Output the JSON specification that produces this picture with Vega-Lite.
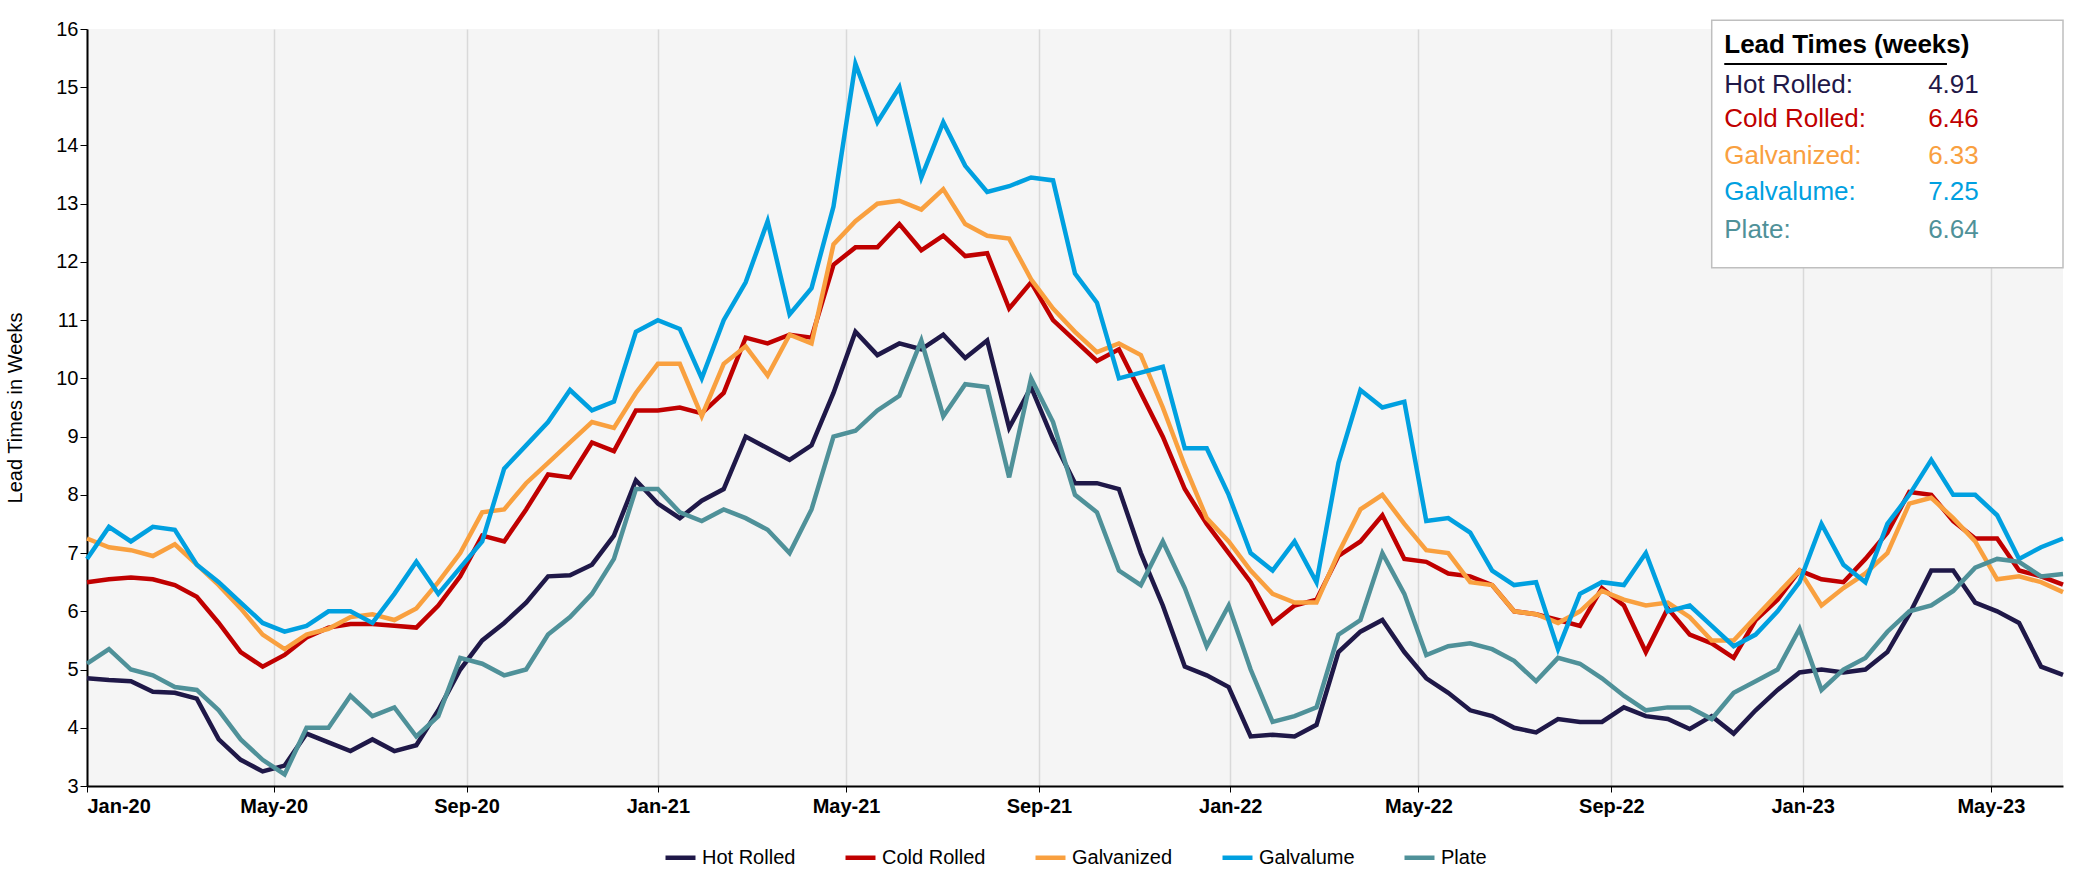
{
  "$schema": "https://vega.github.io/schema/vega-lite/v6.json",
  "width": 2097,
  "height": 873,
  "autosize": {"type": "fit", "contains": "padding"},
  "padding": {"left": 5, "right": 25, "top": 18, "bottom": 5},
  "background": "#ffffff",
  "config": {
    "view": {"fill": "#f5f5f5", "stroke": null},
    "font": "Liberation Sans",
    "legend": {"layout": {"bottom": {"anchor": "middle"}}}
  },
  "datasets": {
    "lead": [
      {"date":"2020-01-03","Hot Rolled":4.85,"Cold Rolled":6.5,"Galvanized":7.25,"Galvalume":6.9,"Plate":5.1},
      {"date":"2020-01-17","Hot Rolled":4.82,"Cold Rolled":6.55,"Galvanized":7.1,"Galvalume":7.45,"Plate":5.35},
      {"date":"2020-01-31","Hot Rolled":4.8,"Cold Rolled":6.58,"Galvanized":7.05,"Galvalume":7.2,"Plate":5.0},
      {"date":"2020-02-14","Hot Rolled":4.62,"Cold Rolled":6.55,"Galvanized":6.95,"Galvalume":7.45,"Plate":4.9},
      {"date":"2020-02-28","Hot Rolled":4.6,"Cold Rolled":6.45,"Galvanized":7.15,"Galvalume":7.4,"Plate":4.7},
      {"date":"2020-03-13","Hot Rolled":4.5,"Cold Rolled":6.25,"Galvanized":6.8,"Galvalume":6.8,"Plate":4.65},
      {"date":"2020-03-27","Hot Rolled":3.8,"Cold Rolled":5.8,"Galvanized":6.45,"Galvalume":6.5,"Plate":4.3},
      {"date":"2020-04-10","Hot Rolled":3.45,"Cold Rolled":5.3,"Galvanized":6.05,"Galvalume":6.15,"Plate":3.8},
      {"date":"2020-04-24","Hot Rolled":3.25,"Cold Rolled":5.05,"Galvanized":5.6,"Galvalume":5.8,"Plate":3.45},
      {"date":"2020-05-08","Hot Rolled":3.35,"Cold Rolled":5.25,"Galvanized":5.35,"Galvalume":5.65,"Plate":3.2},
      {"date":"2020-05-22","Hot Rolled":3.9,"Cold Rolled":5.55,"Galvanized":5.6,"Galvalume":5.75,"Plate":4.0},
      {"date":"2020-06-05","Hot Rolled":3.75,"Cold Rolled":5.72,"Galvanized":5.7,"Galvalume":6.0,"Plate":4.0},
      {"date":"2020-06-19","Hot Rolled":3.6,"Cold Rolled":5.78,"Galvanized":5.9,"Galvalume":6.0,"Plate":4.55},
      {"date":"2020-07-03","Hot Rolled":3.8,"Cold Rolled":5.78,"Galvanized":5.95,"Galvalume":5.8,"Plate":4.2},
      {"date":"2020-07-17","Hot Rolled":3.6,"Cold Rolled":5.75,"Galvanized":5.85,"Galvalume":6.3,"Plate":4.35},
      {"date":"2020-07-31","Hot Rolled":3.7,"Cold Rolled":5.72,"Galvanized":6.05,"Galvalume":6.85,"Plate":3.85},
      {"date":"2020-08-14","Hot Rolled":4.3,"Cold Rolled":6.1,"Galvanized":6.5,"Galvalume":6.3,"Plate":4.2},
      {"date":"2020-08-28","Hot Rolled":5.0,"Cold Rolled":6.6,"Galvanized":7.0,"Galvalume":6.75,"Plate":5.2},
      {"date":"2020-09-11","Hot Rolled":5.5,"Cold Rolled":7.3,"Galvanized":7.7,"Galvalume":7.2,"Plate":5.1},
      {"date":"2020-09-25","Hot Rolled":5.8,"Cold Rolled":7.2,"Galvanized":7.75,"Galvalume":8.45,"Plate":4.9},
      {"date":"2020-10-09","Hot Rolled":6.15,"Cold Rolled":7.75,"Galvanized":8.2,"Galvalume":8.85,"Plate":5.0},
      {"date":"2020-10-23","Hot Rolled":6.6,"Cold Rolled":8.35,"Galvanized":8.55,"Galvalume":9.25,"Plate":5.6},
      {"date":"2020-11-06","Hot Rolled":6.62,"Cold Rolled":8.3,"Galvanized":8.9,"Galvalume":9.8,"Plate":5.9},
      {"date":"2020-11-20","Hot Rolled":6.8,"Cold Rolled":8.9,"Galvanized":9.25,"Galvalume":9.45,"Plate":6.3},
      {"date":"2020-12-04","Hot Rolled":7.3,"Cold Rolled":8.75,"Galvanized":9.15,"Galvalume":9.6,"Plate":6.9},
      {"date":"2020-12-18","Hot Rolled":8.25,"Cold Rolled":9.45,"Galvanized":9.75,"Galvalume":10.8,"Plate":8.1},
      {"date":"2021-01-01","Hot Rolled":7.85,"Cold Rolled":9.45,"Galvanized":10.25,"Galvalume":11.0,"Plate":8.1},
      {"date":"2021-01-15","Hot Rolled":7.6,"Cold Rolled":9.5,"Galvanized":10.25,"Galvalume":10.85,"Plate":7.7},
      {"date":"2021-01-29","Hot Rolled":7.9,"Cold Rolled":9.4,"Galvanized":9.35,"Galvalume":10.0,"Plate":7.55},
      {"date":"2021-02-12","Hot Rolled":8.1,"Cold Rolled":9.75,"Galvanized":10.25,"Galvalume":11.0,"Plate":7.75},
      {"date":"2021-02-26","Hot Rolled":9.0,"Cold Rolled":10.7,"Galvanized":10.55,"Galvalume":11.65,"Plate":7.6},
      {"date":"2021-03-12","Hot Rolled":8.8,"Cold Rolled":10.6,"Galvanized":10.05,"Galvalume":12.7,"Plate":7.4},
      {"date":"2021-03-26","Hot Rolled":8.6,"Cold Rolled":10.75,"Galvanized":10.75,"Galvalume":11.1,"Plate":7.0},
      {"date":"2021-04-09","Hot Rolled":8.85,"Cold Rolled":10.7,"Galvanized":10.6,"Galvalume":11.55,"Plate":7.75},
      {"date":"2021-04-23","Hot Rolled":9.75,"Cold Rolled":11.95,"Galvanized":12.3,"Galvalume":12.95,"Plate":9.0},
      {"date":"2021-05-07","Hot Rolled":10.8,"Cold Rolled":12.25,"Galvanized":12.7,"Galvalume":15.4,"Plate":9.1},
      {"date":"2021-05-21","Hot Rolled":10.4,"Cold Rolled":12.25,"Galvanized":13.0,"Galvalume":14.4,"Plate":9.45},
      {"date":"2021-06-04","Hot Rolled":10.6,"Cold Rolled":12.65,"Galvanized":13.05,"Galvalume":15.0,"Plate":9.7},
      {"date":"2021-06-18","Hot Rolled":10.5,"Cold Rolled":12.2,"Galvanized":12.9,"Galvalume":13.45,"Plate":10.65},
      {"date":"2021-07-02","Hot Rolled":10.75,"Cold Rolled":12.45,"Galvanized":13.25,"Galvalume":14.4,"Plate":9.35},
      {"date":"2021-07-16","Hot Rolled":10.35,"Cold Rolled":12.1,"Galvanized":12.65,"Galvalume":13.65,"Plate":9.9},
      {"date":"2021-07-30","Hot Rolled":10.65,"Cold Rolled":12.15,"Galvanized":12.45,"Galvalume":13.2,"Plate":9.85},
      {"date":"2021-08-13","Hot Rolled":9.15,"Cold Rolled":11.2,"Galvanized":12.4,"Galvalume":13.3,"Plate":8.3},
      {"date":"2021-08-27","Hot Rolled":9.85,"Cold Rolled":11.65,"Galvanized":11.7,"Galvalume":13.45,"Plate":10.0},
      {"date":"2021-09-10","Hot Rolled":8.95,"Cold Rolled":11.0,"Galvanized":11.2,"Galvalume":13.4,"Plate":9.25},
      {"date":"2021-09-24","Hot Rolled":8.2,"Cold Rolled":10.65,"Galvanized":10.8,"Galvalume":11.8,"Plate":8.0},
      {"date":"2021-10-08","Hot Rolled":8.2,"Cold Rolled":10.3,"Galvanized":10.45,"Galvalume":11.3,"Plate":7.7},
      {"date":"2021-10-22","Hot Rolled":8.1,"Cold Rolled":10.5,"Galvanized":10.6,"Galvalume":10.0,"Plate":6.7},
      {"date":"2021-11-05","Hot Rolled":7.0,"Cold Rolled":9.75,"Galvanized":10.4,"Galvalume":10.1,"Plate":6.45},
      {"date":"2021-11-19","Hot Rolled":6.1,"Cold Rolled":9.0,"Galvanized":9.5,"Galvalume":10.2,"Plate":7.2},
      {"date":"2021-12-03","Hot Rolled":5.05,"Cold Rolled":8.1,"Galvanized":8.5,"Galvalume":8.8,"Plate":6.4},
      {"date":"2021-12-17","Hot Rolled":4.9,"Cold Rolled":7.5,"Galvanized":7.6,"Galvalume":8.8,"Plate":5.4},
      {"date":"2021-12-31","Hot Rolled":4.7,"Cold Rolled":7.0,"Galvanized":7.2,"Galvalume":8.0,"Plate":6.1},
      {"date":"2022-01-14","Hot Rolled":3.85,"Cold Rolled":6.5,"Galvanized":6.7,"Galvalume":7.0,"Plate":5.0},
      {"date":"2022-01-28","Hot Rolled":3.88,"Cold Rolled":5.8,"Galvanized":6.3,"Galvalume":6.7,"Plate":4.1},
      {"date":"2022-02-11","Hot Rolled":3.85,"Cold Rolled":6.1,"Galvanized":6.15,"Galvalume":7.2,"Plate":4.2},
      {"date":"2022-02-25","Hot Rolled":4.05,"Cold Rolled":6.2,"Galvanized":6.15,"Galvalume":6.5,"Plate":4.35},
      {"date":"2022-03-11","Hot Rolled":5.3,"Cold Rolled":6.95,"Galvanized":7.0,"Galvalume":8.55,"Plate":5.6},
      {"date":"2022-03-25","Hot Rolled":5.65,"Cold Rolled":7.2,"Galvanized":7.75,"Galvalume":9.8,"Plate":5.85},
      {"date":"2022-04-08","Hot Rolled":5.85,"Cold Rolled":7.65,"Galvanized":8.0,"Galvalume":9.5,"Plate":7.0},
      {"date":"2022-04-22","Hot Rolled":5.3,"Cold Rolled":6.9,"Galvanized":7.5,"Galvalume":9.6,"Plate":6.3},
      {"date":"2022-05-06","Hot Rolled":4.85,"Cold Rolled":6.85,"Galvanized":7.05,"Galvalume":7.55,"Plate":5.25},
      {"date":"2022-05-20","Hot Rolled":4.6,"Cold Rolled":6.65,"Galvanized":7.0,"Galvalume":7.6,"Plate":5.4},
      {"date":"2022-06-03","Hot Rolled":4.3,"Cold Rolled":6.6,"Galvanized":6.5,"Galvalume":7.35,"Plate":5.45},
      {"date":"2022-06-17","Hot Rolled":4.2,"Cold Rolled":6.45,"Galvanized":6.45,"Galvalume":6.7,"Plate":5.35},
      {"date":"2022-07-01","Hot Rolled":4.0,"Cold Rolled":6.0,"Galvanized":6.0,"Galvalume":6.45,"Plate":5.15},
      {"date":"2022-07-15","Hot Rolled":3.92,"Cold Rolled":5.95,"Galvanized":5.95,"Galvalume":6.5,"Plate":4.8},
      {"date":"2022-07-29","Hot Rolled":4.15,"Cold Rolled":5.85,"Galvanized":5.8,"Galvalume":5.35,"Plate":5.2},
      {"date":"2022-08-12","Hot Rolled":4.1,"Cold Rolled":5.75,"Galvanized":6.0,"Galvalume":6.3,"Plate":5.1},
      {"date":"2022-08-26","Hot Rolled":4.1,"Cold Rolled":6.4,"Galvanized":6.35,"Galvalume":6.5,"Plate":4.85},
      {"date":"2022-09-09","Hot Rolled":4.35,"Cold Rolled":6.1,"Galvanized":6.2,"Galvalume":6.45,"Plate":4.55},
      {"date":"2022-09-23","Hot Rolled":4.2,"Cold Rolled":5.3,"Galvanized":6.1,"Galvalume":7.0,"Plate":4.3},
      {"date":"2022-10-07","Hot Rolled":4.15,"Cold Rolled":6.05,"Galvanized":6.15,"Galvalume":6.0,"Plate":4.35},
      {"date":"2022-10-21","Hot Rolled":3.98,"Cold Rolled":5.6,"Galvanized":5.9,"Galvalume":6.1,"Plate":4.35},
      {"date":"2022-11-04","Hot Rolled":4.2,"Cold Rolled":5.45,"Galvanized":5.5,"Galvalume":5.75,"Plate":4.15},
      {"date":"2022-11-18","Hot Rolled":3.9,"Cold Rolled":5.2,"Galvanized":5.5,"Galvalume":5.4,"Plate":4.6},
      {"date":"2022-12-02","Hot Rolled":4.3,"Cold Rolled":5.85,"Galvanized":5.9,"Galvalume":5.6,"Plate":4.8},
      {"date":"2022-12-16","Hot Rolled":4.65,"Cold Rolled":6.2,"Galvanized":6.3,"Galvalume":6.0,"Plate":5.0},
      {"date":"2022-12-30","Hot Rolled":4.95,"Cold Rolled":6.7,"Galvanized":6.7,"Galvalume":6.5,"Plate":5.7},
      {"date":"2023-01-13","Hot Rolled":5.0,"Cold Rolled":6.55,"Galvanized":6.1,"Galvalume":7.5,"Plate":4.65},
      {"date":"2023-01-27","Hot Rolled":4.95,"Cold Rolled":6.5,"Galvanized":6.4,"Galvalume":6.8,"Plate":5.0},
      {"date":"2023-02-10","Hot Rolled":5.0,"Cold Rolled":6.9,"Galvanized":6.65,"Galvalume":6.5,"Plate":5.2},
      {"date":"2023-02-24","Hot Rolled":5.3,"Cold Rolled":7.35,"Galvanized":7.0,"Galvalume":7.5,"Plate":5.65},
      {"date":"2023-03-10","Hot Rolled":5.95,"Cold Rolled":8.05,"Galvanized":7.85,"Galvalume":8.0,"Plate":6.0},
      {"date":"2023-03-24","Hot Rolled":6.7,"Cold Rolled":8.0,"Galvanized":7.95,"Galvalume":8.6,"Plate":6.1},
      {"date":"2023-04-07","Hot Rolled":6.7,"Cold Rolled":7.55,"Galvanized":7.6,"Galvalume":8.0,"Plate":6.35},
      {"date":"2023-04-21","Hot Rolled":6.15,"Cold Rolled":7.25,"Galvanized":7.2,"Galvalume":8.0,"Plate":6.75},
      {"date":"2023-05-05","Hot Rolled":6.0,"Cold Rolled":7.25,"Galvanized":6.55,"Galvalume":7.65,"Plate":6.9},
      {"date":"2023-05-19","Hot Rolled":5.8,"Cold Rolled":6.7,"Galvanized":6.6,"Galvalume":6.9,"Plate":6.85},
      {"date":"2023-06-02","Hot Rolled":5.05,"Cold Rolled":6.6,"Galvanized":6.5,"Galvalume":7.1,"Plate":6.6},
      {"date":"2023-06-16","Hot Rolled":4.91,"Cold Rolled":6.46,"Galvanized":6.33,"Galvalume":7.25,"Plate":6.64}
    ]
  },
  "encoding": {
    "x": {
      "field": "date", "type": "temporal",
      "scale": {"domain": ["2020-01-03", "2023-06-16"]},
      "axis": {
        "title": null, "format": "%b-%y", "values": [
          "2020-01-03","2020-05-01","2020-09-01","2021-01-01","2021-05-01","2021-09-01",
          "2022-01-01","2022-05-01","2022-09-01","2023-01-01","2023-05-01"],
        "labelFontSize": 20, "labelFontWeight": "bold", "labelColor": "#000000",
        "grid": true, "gridColor": "#d9d9d9", "gridWidth": 1.5,
        "domainColor": "#000000", "domainWidth": 2, "tickColor": "#000000", "tickSize": 6, "labelPadding": 4
      }
    },
    "y": {
      "type": "quantitative",
      "scale": {"domain": [3, 16], "nice": false},
      "axis": {
        "title": "Lead Times in Weeks", "titleFontSize": 20, "titleFontWeight": "normal", "titleColor": "#000000", "titlePadding": 30,
        "values": [3,4,5,6,7,8,9,10,11,12,13,14,15,16], "labelOverlap": false,
        "labelFontSize": 20, "labelColor": "#000000", "grid": false,
        "domainColor": "#000000", "domainWidth": 2, "tickColor": "#000000", "tickSize": 7
      }
    }
  },
  "layer": [
    {
      "data": {"name": "lead"},
      "transform": [{"fold": ["Hot Rolled", "Cold Rolled", "Galvanized", "Galvalume", "Plate"], "as": ["series", "weeks"]}],
      "mark": {"type": "line", "strokeWidth": 4.5, "interpolate": "linear"},
      "encoding": {
        "y": {"field": "weeks"},
        "color": {
          "field": "series", "type": "nominal",
          "scale": {
            "domain": ["Hot Rolled", "Cold Rolled", "Galvanized", "Galvalume", "Plate"],
            "range": ["#1f1848", "#c00000", "#f9a03f", "#00a0e0", "#4f9199"]
          },
          "legend": {
            "orient": "bottom", "direction": "horizontal", "title": null,
            "symbolType": "stroke", "symbolStrokeWidth": 4.5, "symbolSize": 900,
            "labelFontSize": 20, "labelColor": "#000000", "columnPadding": 40, "offset": 24
          }
        }
      }
    },
    {
      "data": {"values": [{"a": "2022-11-04", "b": "2023-06-16", "t": 16.15, "u": 11.9}]},
      "mark": {"type": "rect", "fill": "#ffffff", "stroke": "#bfbfbf", "strokeWidth": 1.5, "clip": false},
      "encoding": {
        "x": {"field": "a", "type": "temporal"},
        "x2": {"field": "b"},
        "y": {"field": "t", "type": "quantitative"},
        "y2": {"field": "u"}
      }
    },
    {
      "data": {"values": [{"d": "2022-11-12", "v": 15.72, "txt": "Lead Times (weeks)"}]},
      "mark": {"type": "text", "align": "left", "baseline": "middle", "fontSize": 26, "fontWeight": "bold", "color": "#000000"},
      "encoding": {
        "x": {"field": "d", "type": "temporal"},
        "y": {"field": "v", "type": "quantitative"},
        "text": {"field": "txt"}
      }
    },
    {
      "data": {"values": [{"d1": "2022-11-12", "d2": "2023-04-03", "v": 15.4}]},
      "mark": {"type": "rule", "color": "#000000", "strokeWidth": 2},
      "encoding": {
        "x": {"field": "d1", "type": "temporal"},
        "x2": {"field": "d2"},
        "y": {"field": "v", "type": "quantitative"}
      }
    },
    {
      "data": {"values": [
        {"d": "2022-11-12", "v": 15.04, "txt": "Hot Rolled:", "series": "Hot Rolled"},
        {"d": "2022-11-12", "v": 14.45, "txt": "Cold Rolled:", "series": "Cold Rolled"},
        {"d": "2022-11-12", "v": 13.82, "txt": "Galvanized:", "series": "Galvanized"},
        {"d": "2022-11-12", "v": 13.2, "txt": "Galvalume:", "series": "Galvalume"},
        {"d": "2022-11-12", "v": 12.55, "txt": "Plate:", "series": "Plate"},
        {"d": "2023-03-22", "v": 15.04, "txt": "4.91", "series": "Hot Rolled"},
        {"d": "2023-03-22", "v": 14.45, "txt": "6.46", "series": "Cold Rolled"},
        {"d": "2023-03-22", "v": 13.82, "txt": "6.33", "series": "Galvanized"},
        {"d": "2023-03-22", "v": 13.2, "txt": "7.25", "series": "Galvalume"},
        {"d": "2023-03-22", "v": 12.55, "txt": "6.64", "series": "Plate"}
      ]},
      "mark": {"type": "text", "align": "left", "baseline": "middle", "fontSize": 26},
      "encoding": {
        "x": {"field": "d", "type": "temporal"},
        "y": {"field": "v", "type": "quantitative"},
        "text": {"field": "txt"},
        "color": {"field": "series", "type": "nominal"}
      }
    }
  ]
}
